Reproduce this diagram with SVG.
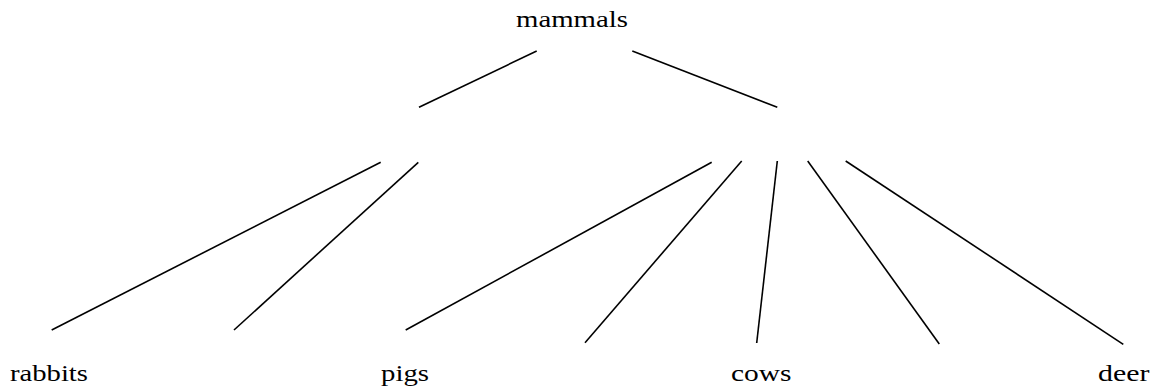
<svg xmlns="http://www.w3.org/2000/svg" width="1155" height="390" viewBox="0 0 1155 390">
<style>
.t{font-family:'Liberation Serif','Times New Roman',Times,serif;font-size:24px;fill:#000}
.c line{stroke:#000;stroke-width:1.6;stroke-linecap:butt}
</style>
<rect width="1155" height="390" fill="#fff"/>
<g id="connectors" class="c">
<line x1="536.7" y1="51" x2="419" y2="107.3"/>
<line x1="632.3" y1="51" x2="777.3" y2="107.3"/>
<line x1="380.7" y1="162.3" x2="51.7" y2="330"/>
<line x1="418.3" y1="162.3" x2="234" y2="330"/>
<line x1="711.7" y1="162.3" x2="405.7" y2="330"/>
<line x1="741.7" y1="161" x2="585" y2="342.7"/>
<line x1="777.3" y1="161" x2="756.7" y2="343"/>
<line x1="807.7" y1="161" x2="939.3" y2="344"/>
<line x1="845.7" y1="161" x2="1123.3" y2="344.3"/>
</g>
<g id="node-mammals" transform="translate(516 27.3) scale(1.2 1)"><text class="t" x="0" y="0">mammals</text></g>
<g id="node-rabbits" transform="translate(10 381) scale(1.194 1)"><text class="t" x="0" y="0">rabbits</text></g>
<g id="node-pigs" transform="translate(381 381) scale(1.2 1)"><text class="t" x="0" y="0">pigs</text></g>
<g id="node-cows" transform="translate(731 381) scale(1.225 1)"><text class="t" x="0" y="0">cows</text></g>
<g id="node-deer" transform="translate(1098 381) scale(1.245 1)"><text class="t" x="0" y="0">deer</text></g>
</svg>
